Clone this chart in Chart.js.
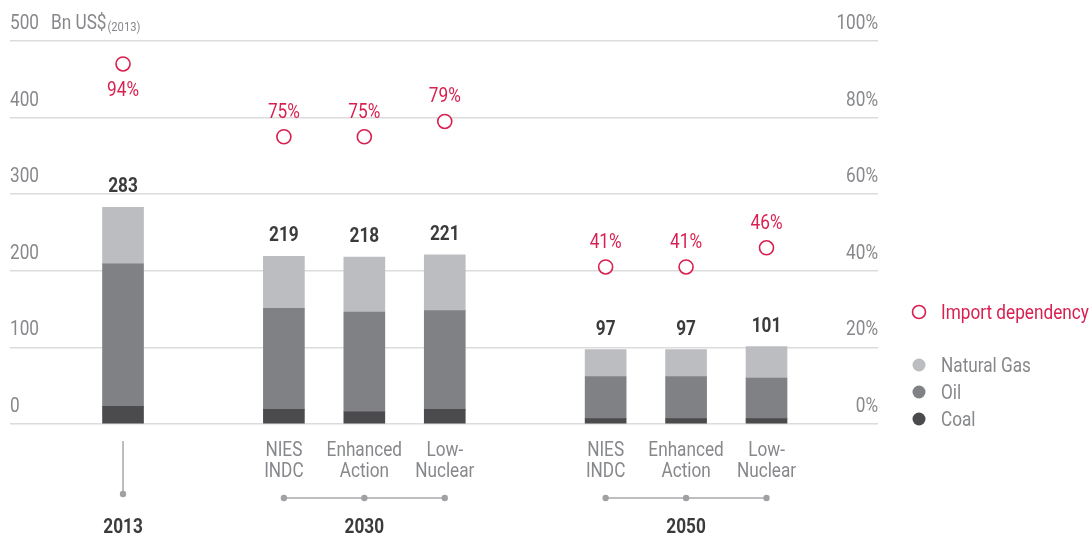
<!DOCTYPE html>
<html>
<head>
<meta charset="utf-8">
<script src="https://cdn.jsdelivr.net/npm/chart.js@4.4.1/dist/chart.umd.min.js"></script>
<style>
  html, body { margin: 0; padding: 0; background: #fff; }
  #wrap { width: 1090px; height: 536px; }
</style>
</head>
<body>
<div id="wrap"><canvas id="energyChart" width="1090" height="536"></canvas></div>
<script>
// groups along the x axis, each with its scenarios
const years = ['2013', '2030', '2050'];
const scenarios = [
  [[]],
  [['NIES', 'INDC'], ['Enhanced', 'Action'], ['Low-', 'Nuclear']],
  [['NIES', 'INDC'], ['Enhanced', 'Action'], ['Low-', 'Nuclear']]
];

// fossil fuel import bill, Bn US$ (2013)
const coal = [23, 19, 16, 19, 7, 7, 7];
const oil = [186, 132, 130, 129, 55, 55, 53];
const naturalGas = [74, 68, 72, 73, 35, 35, 41];
// import dependency, %
const importDependency = [94, 75, 75, 79, 41, 41, 46];

const leftTicks = [0, 100, 200, 300, 400, 500];
const rightTicks = [0, 20, 40, 60, 80, 100];

const FONT = "Roboto, 'Liberation Sans', sans-serif";
const SQUEEZE = 0.86; // narrow the glyphs horizontally, no condensed face installed
const GREY_TEXT = '#87888b';
const DARK_TEXT = '#3b3b3d';
const CRIMSON = '#d81f4f';
const COLORS = { coal: '#4b4b4d', oil: '#808184', gas: '#bcbdc0' };

// one slot per bar, one empty slot between groups
const slots = [];
const slotLabels = {};
const groupSlots = [];
let pos = 0;
scenarios.forEach(list => {
  const these = [];
  list.forEach(lbl => { slots.push(pos); slotLabels[pos] = lbl; these.push(pos); pos++; });
  groupSlots.push(these);
  pos++;
});

const pts = arr => arr.map((v, i) => ({ x: slots[i], y: v }));
const totals = coal.map((c, i) => c + oil[i] + naturalGas[i]);

Chart.defaults.font.family = FONT;

// y is the visual middle of the text
function text(ctx, s, x, y, align) {
  ctx.save();
  ctx.translate(x, y + 2);
  ctx.scale(SQUEEZE, 1);
  ctx.textAlign = align || 'center';
  ctx.fillText(s, 0, 0);
  ctx.restore();
}
const textWidth = (ctx, s) => ctx.measureText(s).width * SQUEEZE;

const overlay = {
  id: 'overlay',
  afterDraw(chart) {
    const { ctx, scales, chartArea } = chart;
    const x = scales.x, y = scales.y, y2 = scales.y2;
    ctx.save();
    ctx.textBaseline = 'middle';

    // axis tick labels, placed above their grid lines
    ctx.font = '20px ' + FONT;
    ctx.fillStyle = GREY_TEXT;
    y.ticks.forEach(t => text(ctx, String(t.value), chartArea.left, y.getPixelForValue(t.value) - 19, 'left'));
    y2.ticks.forEach(t => text(ctx, t.value + '%', chartArea.right, y2.getPixelForValue(t.value) - 19, 'right'));

    // unit next to the top tick
    const topY = y.getPixelForValue(500) - 19;
    const bnX = chartArea.left + textWidth(ctx, '500') + 12;
    text(ctx, 'Bn US$', bnX, topY, 'left');
    const bnW = textWidth(ctx, 'Bn US$');
    ctx.font = '13px ' + FONT;
    text(ctx, '(2013)', bnX + bnW + 1, topY + 4, 'left');

    // scenario names under the bars
    ctx.font = '20px ' + FONT;
    x.ticks.forEach(t => {
      const lines = slotLabels[t.value] || [];
      lines.forEach((ln, k) => text(ctx, ln, x.getPixelForValue(t.value), x.top + 25 + k * 21));
    });

    // totals above the bars
    ctx.font = 'bold 20px ' + FONT;
    ctx.fillStyle = DARK_TEXT;
    totals.forEach((t, i) => {
      text(ctx, String(t), x.getPixelForValue(slots[i]), y.getPixelForValue(t) - 22);
    });

    // import dependency labels
    ctx.font = '20px ' + FONT;
    ctx.fillStyle = CRIMSON;
    importDependency.forEach((v, i) => {
      const py = y2.getPixelForValue(v);
      const below = v > 90;
      text(ctx, v + '%', x.getPixelForValue(slots[i]), below ? py + 25 : py - 26);
    });

    // group connectors and year labels
    ctx.strokeStyle = '#a7a8ab';
    ctx.fillStyle = '#a0a1a4';
    ctx.lineWidth = 1.5;
    const lineY = 498;
    groupSlots.forEach(list => {
      const xs = list.map(s => x.getPixelForValue(s));
      ctx.beginPath();
      if (xs.length === 1) {
        ctx.moveTo(xs[0], 441);
        ctx.lineTo(xs[0], lineY - 4);
      } else {
        ctx.moveTo(xs[0], lineY);
        ctx.lineTo(xs[xs.length - 1], lineY);
      }
      ctx.stroke();
      xs.forEach(px => {
        ctx.beginPath();
        ctx.arc(px, xs.length === 1 ? lineY - 4 : lineY, 3.2, 0, Math.PI * 2);
        ctx.fill();
      });
    });
    ctx.font = 'bold 20px ' + FONT;
    ctx.fillStyle = DARK_TEXT;
    groupSlots.forEach((list, g) => {
      const mid = (x.getPixelForValue(list[0]) + x.getPixelForValue(list[list.length - 1])) / 2;
      text(ctx, years[g], mid, 526);
    });

    // legend
    const lx = 919, tx = 941;
    ctx.font = '20px ' + FONT;
    ctx.lineWidth = 1.6;
    ctx.strokeStyle = CRIMSON;
    ctx.fillStyle = '#fff';
    ctx.beginPath();
    ctx.arc(lx, 312, 6.5, 0, Math.PI * 2);
    ctx.fill();
    ctx.stroke();
    ctx.fillStyle = CRIMSON;
    text(ctx, 'Import dependency', tx, 312, 'left');
    [['Natural Gas', COLORS.gas, 365], ['Oil', COLORS.oil, 392], ['Coal', COLORS.coal, 419]].forEach(([name, col, ly]) => {
      ctx.fillStyle = col;
      ctx.beginPath();
      ctx.arc(lx, ly, 6.5, 0, Math.PI * 2);
      ctx.fill();
      ctx.fillStyle = GREY_TEXT;
      text(ctx, name, tx, ly, 'left');
    });

    ctx.restore();
  }
};

const ctx = document.getElementById('energyChart').getContext('2d');
const chart = new Chart(ctx, {
  type: 'bar',
  data: {
    datasets: [
      {
        type: 'line',
        label: 'Import dependency',
        data: pts(importDependency),
        yAxisID: 'y2',
        showLine: false,
        pointRadius: 7,
        pointBorderWidth: 1.6,
        pointBorderColor: CRIMSON,
        pointBackgroundColor: '#fff',
        order: 0
      },
      { label: 'Coal', data: pts(coal), backgroundColor: COLORS.coal, barThickness: 41, stack: 'fuel', order: 1 },
      { label: 'Oil', data: pts(oil), backgroundColor: COLORS.oil, barThickness: 41, stack: 'fuel', order: 1 },
      { label: 'Natural Gas', data: pts(naturalGas), backgroundColor: COLORS.gas, barThickness: 41, stack: 'fuel', order: 1 }
    ]
  },
  options: {
    responsive: false,
    animation: false,
    layout: { padding: { left: 10, right: 212, top: 41, bottom: 0 } },
    plugins: { legend: { display: false }, tooltip: { enabled: false } },
    scales: {
      x: {
        type: 'linear',
        stacked: true,
        offset: false,
        min: -1.405,
        max: 9.386,
        grid: { display: false, drawTicks: false },
        border: { display: false },
        afterBuildTicks: s => { s.ticks = slots.map(v => ({ value: v })); },
        afterFit: s => { s.height = 112; },
        ticks: { display: false }
      },
      y: {
        position: 'left',
        stacked: true,
        min: 0,
        max: 500,
        afterBuildTicks: s => { s.ticks = leftTicks.map(v => ({ value: v })); },
        grid: { color: '#dcdcdd', lineWidth: 1.5, drawTicks: false },
        border: { display: false },
        ticks: { display: false }
      },
      y2: {
        position: 'right',
        min: 0,
        max: 100,
        afterBuildTicks: s => { s.ticks = rightTicks.map(v => ({ value: v })); },
        grid: { display: false, drawTicks: false },
        border: { display: false },
        ticks: { display: false }
      }
    }
  },
  plugins: [overlay]
});
</script>
</body>
</html>
